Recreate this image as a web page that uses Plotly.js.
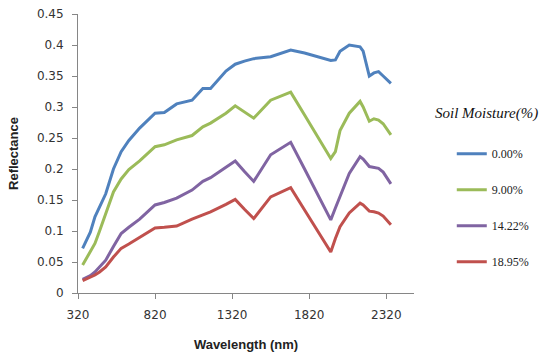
<!DOCTYPE html>
<html>
<head>
<meta charset="utf-8">
<script src="https://cdn.plot.ly/plotly-3.0.1.min.js"></script>
<style>html,body{margin:0;padding:0;background:#fff;}#chart{width:546px;height:356px;}</style>
</head>
<body>
<div id="chart"></div>
<script>
const wavelength = [350, 400, 430, 460, 500, 550, 600, 650, 720, 820, 880, 960, 1060, 1130, 1180, 1280, 1340, 1400, 1460, 1570, 1700, 1790, 1960, 1990, 2020, 2080, 2150, 2170, 2210, 2240, 2270, 2300, 2320, 2350];
const moisture000 = [0.072, 0.098, 0.123, 0.139, 0.160, 0.200, 0.228, 0.246, 0.266, 0.290, 0.291, 0.305, 0.311, 0.330, 0.330, 0.358, 0.369, 0.374, 0.378, 0.381, 0.392, 0.387, 0.375, 0.376, 0.390, 0.400, 0.397, 0.390, 0.350, 0.355, 0.357, 0.350, 0.345, 0.338];
const moisture900 = [0.045, 0.067, 0.080, 0.100, 0.128, 0.163, 0.184, 0.199, 0.213, 0.236, 0.239, 0.247, 0.254, 0.268, 0.274, 0.290, 0.302, 0.292, 0.282, 0.311, 0.324, 0.287, 0.217, 0.228, 0.262, 0.290, 0.309, 0.300, 0.277, 0.281, 0.279, 0.273, 0.266, 0.255];
const moisture1422 = [0.022, 0.028, 0.034, 0.042, 0.053, 0.075, 0.096, 0.106, 0.119, 0.142, 0.146, 0.153, 0.166, 0.180, 0.186, 0.203, 0.213, 0.196, 0.180, 0.223, 0.243, 0.200, 0.118, 0.137, 0.155, 0.193, 0.220, 0.216, 0.204, 0.203, 0.201, 0.195, 0.188, 0.176];
const moisture1895 = [0.020, 0.025, 0.029, 0.034, 0.042, 0.058, 0.072, 0.079, 0.090, 0.105, 0.106, 0.108, 0.119, 0.126, 0.131, 0.143, 0.151, 0.135, 0.120, 0.155, 0.170, 0.134, 0.066, 0.088, 0.107, 0.129, 0.145, 0.142, 0.132, 0.131, 0.129, 0.124, 0.118, 0.110];
const seriesNames = ["0.00%", "9.00%", "14.22%", "18.95%"];
const seriesColors = ["#4F81BD", "#9BBB59", "#8064A2", "#C0504D"];
const xTicks = [320, 820, 1320, 1820, 2320];

const seriesData = [moisture000, moisture900, moisture1422, moisture1895];
const traces = seriesData.map((ys, i) => ({
  x: wavelength, y: ys, type: "scatter", mode: "lines",
  name: seriesNames[i], legendgroup: "g" + i,
  line: {color: seriesColors[i], width: 3}
}));

const layout = {
  width: 546, height: 356,
  margin: {l: 78, r: 123, t: 14, b: 63},
  paper_bgcolor: "#fff", plot_bgcolor: "#fff",
  showlegend: true,
  legend: {
    x: 1.3565, xanchor: "right", y: 0.551, yanchor: "top",
    traceorder: "grouped", tracegroupgap: 17,
    font: {family: "Liberation Serif", size: 12, color: "#222"},
    itemwidth: 30, bgcolor: "rgba(0,0,0,0)", borderwidth: 0
  },
  annotations: [{
    text: "<i>Soil Moisture(%)</i>", xref: "paper", yref: "paper",
    x: 1.215, y: 0.643, xanchor: "center", yanchor: "middle", showarrow: false,
    font: {family: "Liberation Serif", size: 15, color: "#111"}
  }],
  xaxis: {
    range: [320, 2500], tickmode: "array", tickvals: xTicks, ticktext: xTicks.map(String),
    showgrid: false, zeroline: false, showline: true, linecolor: "#868686", linewidth: 1,
    ticks: "outside", ticklen: 5, tickcolor: "#868686", ticklabelstandoff: 6,
    tickfont: {family: "DejaVu Sans", size: 12, color: "#333"},
    title: {text: "<b>Wavelength (nm)</b>", standoff: 18, font: {family: "Liberation Sans", size: 13, color: "#222"}}
  },
  yaxis: {
    range: [0, 0.45], dtick: 0.05, tick0: 0,
    showgrid: false, zeroline: false, showline: true, linecolor: "#868686", linewidth: 1,
    ticks: "outside", ticklen: 5, tickcolor: "#868686", ticklabelstandoff: 6,
    tickfont: {family: "DejaVu Sans", size: 12, color: "#333"},
    title: {text: "<b>Reflectance</b>", standoff: 15, font: {family: "Liberation Sans", size: 13, color: "#222"}}
  }
};

Plotly.newPlot("chart", traces, layout, {displayModeBar: false, staticPlot: true});
</script>
</body>
</html>
